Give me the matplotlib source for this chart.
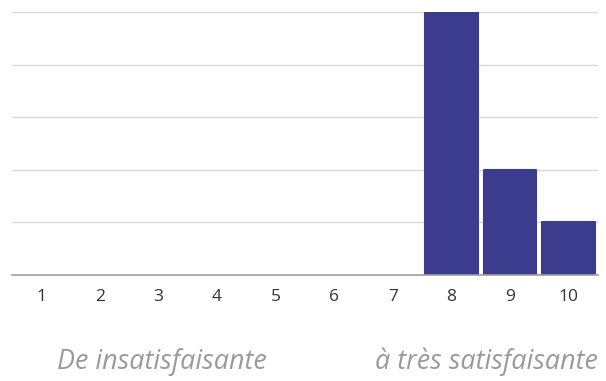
import matplotlib
matplotlib.use("Agg")
import matplotlib.pyplot as plt

categories = ["1", "2", "3", "4", "5", "6", "7", "8", "9", "10"]
values = [0, 0, 0, 0, 0, 0, 0, 5, 2, 1]
left_label = "De insatisfaisante"
right_label = "à très satisfaisante"

plt.rcParams['font.family'] = ['Open Sans', 'DejaVu Sans']

fig = plt.figure(figsize=(6.06, 3.81), dpi=100)
ax = fig.add_axes([12/606, (381-275)/381, 586/606, 263/381])

x = list(range(len(categories)))
lws = [1.5 if v > 0 else 0 for v in values]
ax.bar(x, values, width=0.9, color="#3c3c8e", edgecolor="#3c3c8e",
       linewidth=lws, joinstyle="round", zorder=3)

ax.set_xlim(-0.5, len(categories) - 0.5)
ax.set_ylim(0, 5)
ax.set_yticks([1, 2, 3, 4, 5])
ax.yaxis.grid(True, color="#d9d9d9", linewidth=1, zorder=0)
ax.tick_params(axis='y', left=False, labelleft=False)
ax.set_xticks(x)
ax.set_xticklabels(categories, fontsize=12.5, color="#333333")
ax.tick_params(axis='x', length=0, pad=10)
for s in ["top", "right", "left"]:
    ax.spines[s].set_visible(False)
ax.spines["bottom"].set_color("#9e9e9e")
ax.spines["bottom"].set_linewidth(1.2)
ax.spines["bottom"].set_zorder(4)

fig.text(57/606, 1 - 362/381, left_label, fontsize=19.4, style="italic",
         color="#9a9a9a", ha="left", va="center")
fig.text(598/606, 1 - 362/381, right_label, fontsize=19.4, style="italic",
         color="#9a9a9a", ha="right", va="center")

fig.savefig("out.png", dpi=100)
